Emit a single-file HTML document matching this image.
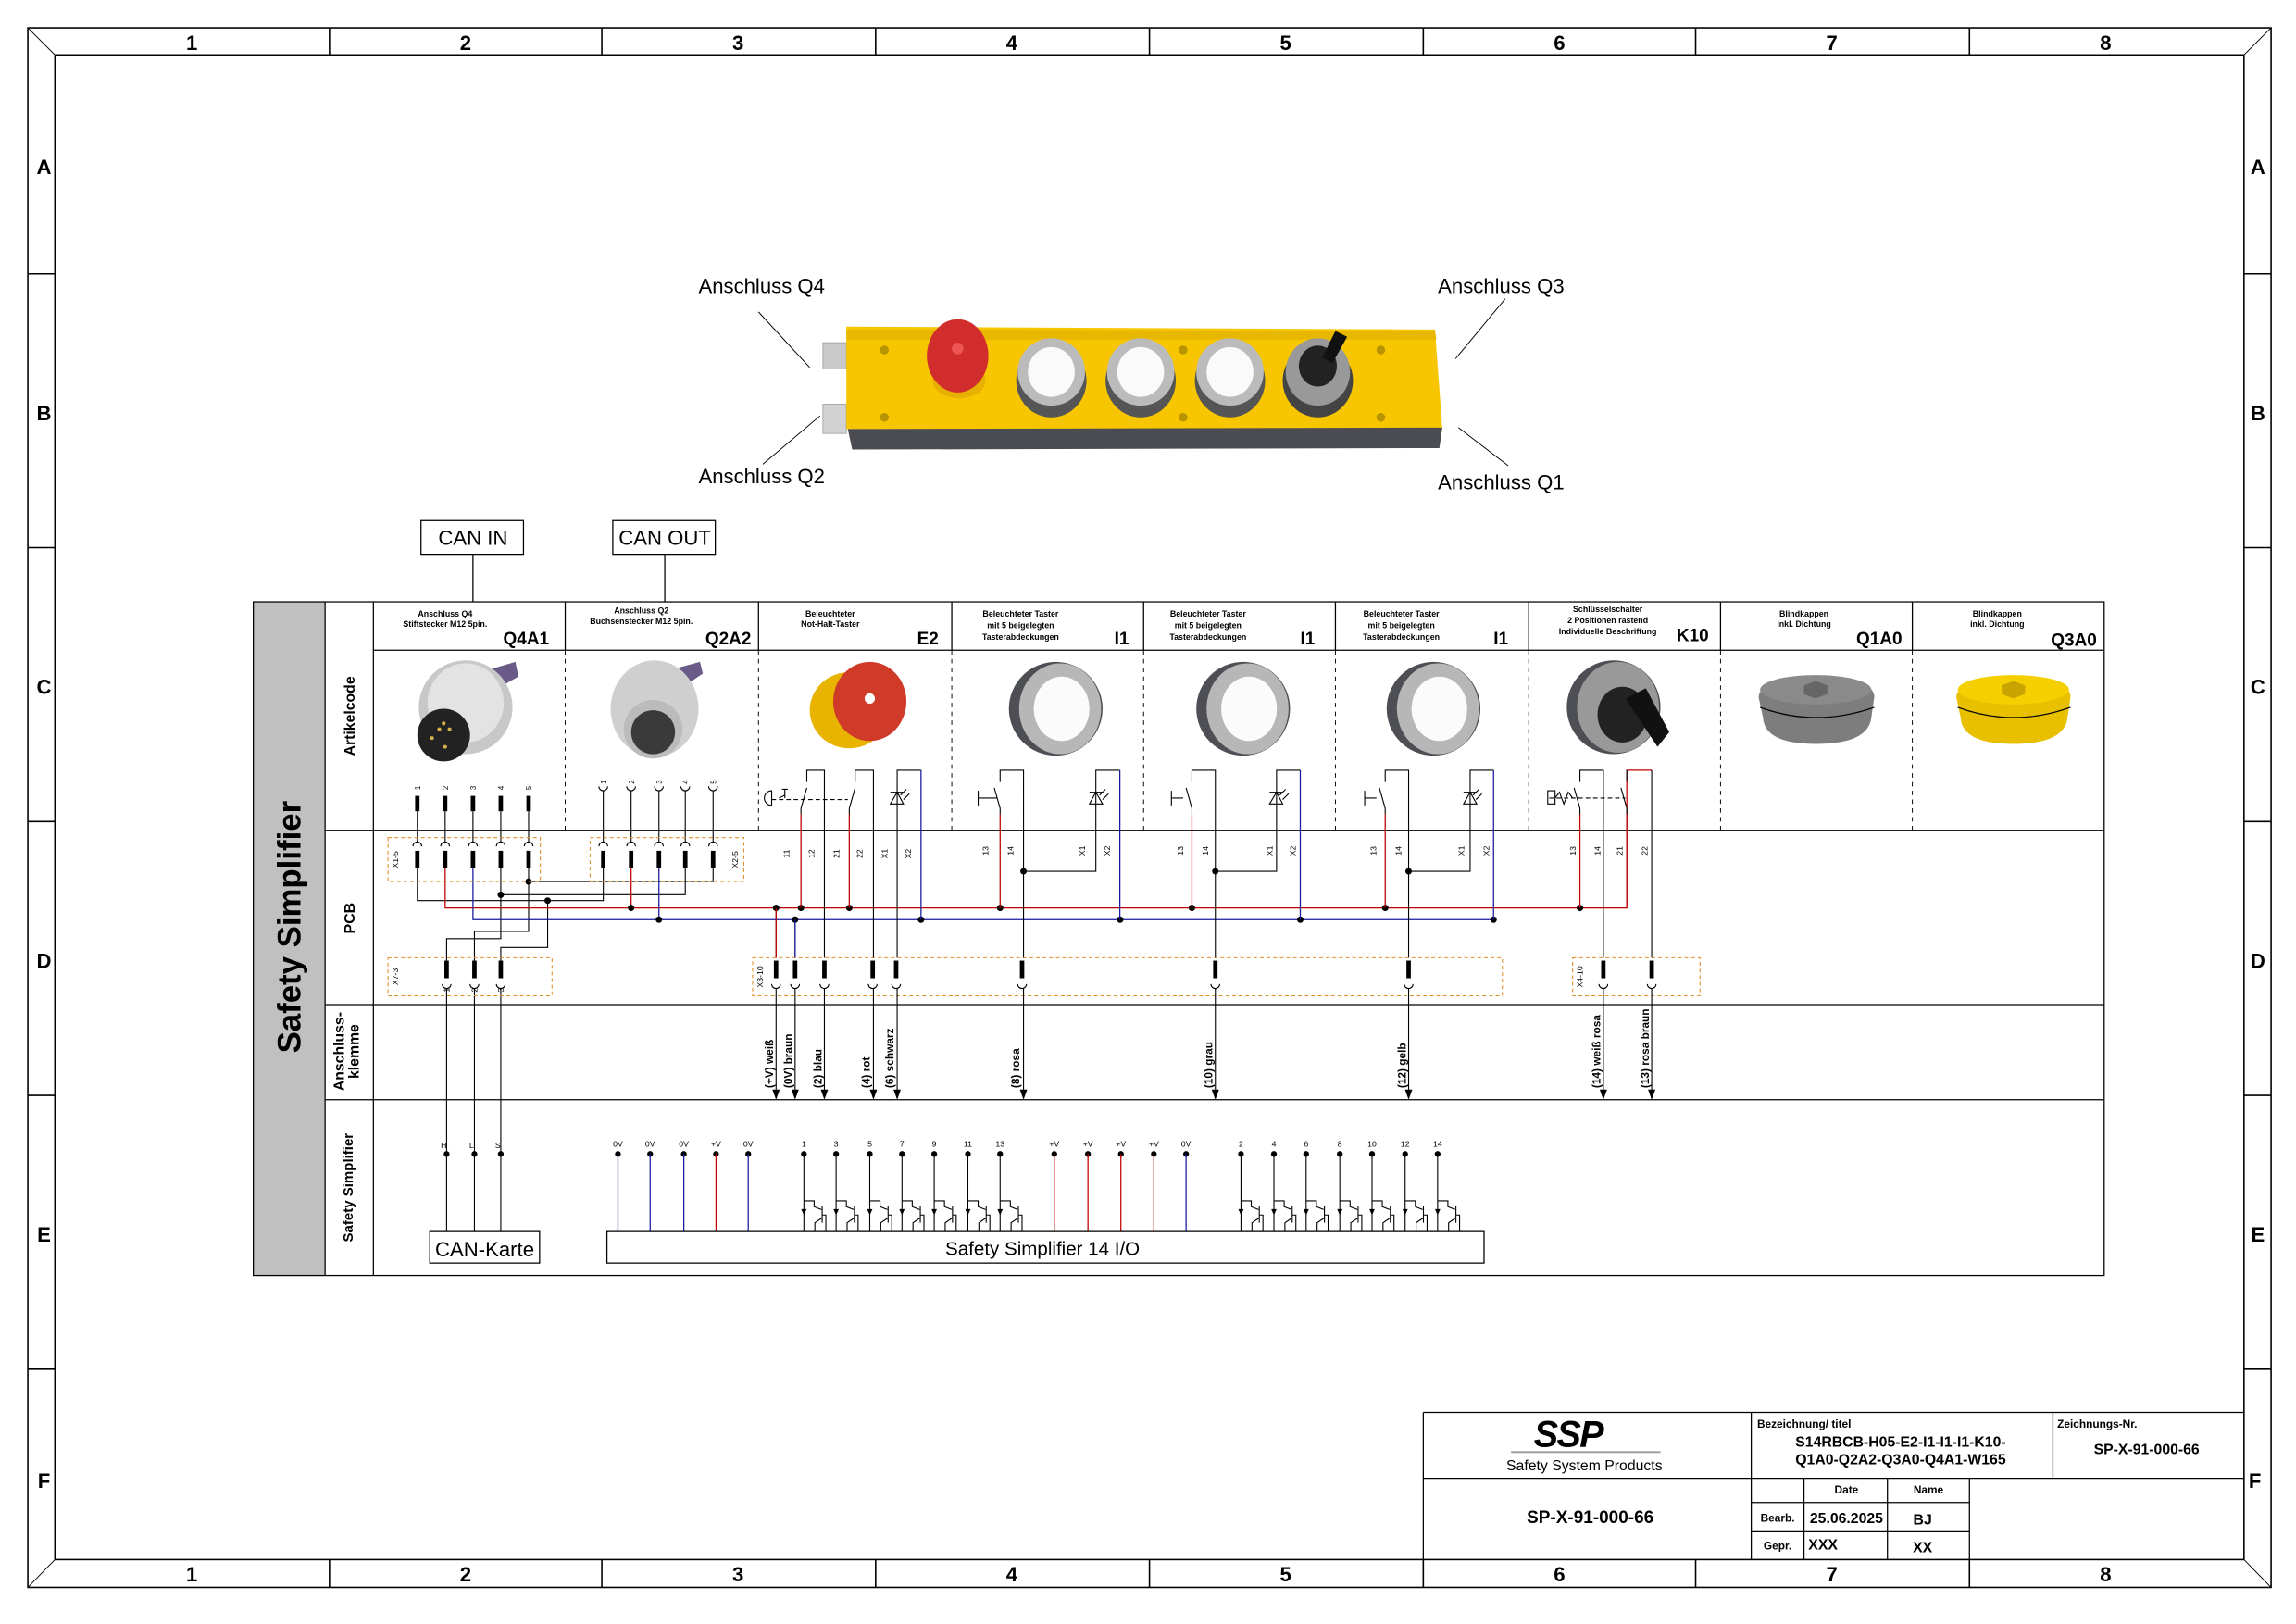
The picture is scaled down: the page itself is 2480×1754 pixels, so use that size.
<!DOCTYPE html>
<html><head><meta charset="utf-8"><style>
html,body{margin:0;padding:0;background:#fff;}
svg{display:block;}
text{font-family:"Liberation Sans",Arial,sans-serif;}
.b{font-weight:bold;}
</style></head><body>
<svg width="2480" height="1754" viewBox="0 0 1568 1109" xmlns="http://www.w3.org/2000/svg">
<defs>
<g id="tr" fill="none" stroke="#000" stroke-width="0.7">
<path d="M0,820 H7 V824 L12,826 M12.5,823.5 V835 M12,832 L7.5,835 V841 M12.5,829.7 H15 V841"/>
<path d="M-1.3,826 L1.3,826 L0,829 Z" fill="#000"/>
</g>
</defs>
<rect width="1568" height="1109" fill="#fff"/>
<!-- frame -->
<g fill="none" stroke="#000" stroke-width="1">
<rect x="19" y="19" width="1532" height="1065"/>
<rect x="37.5" y="37.5" width="1495" height="1027.5"/>
<path d="M19,19 L37.5,37.5 M1551,19 L1532.5,37.5 M19,1084 L37.5,1065 M1551,1084 L1532.5,1065" stroke-width="0.6"/>
<path d="M225,19V37.5 M411,19V37.5 M598,19V37.5 M785,19V37.5 M972,19V37.5 M1158,19V37.5 M1345,19V37.5"/>
<path d="M225,1065V1084 M411,1065V1084 M598,1065V1084 M785,1065V1084 M972,1065V1084 M1158,1065V1084 M1345,1065V1084"/>
<path d="M19,187H37.5 M19,374H37.5 M19,561H37.5 M19,748H37.5 M19,935H37.5"/>
<path d="M1532.5,187H1551 M1532.5,374H1551 M1532.5,561H1551 M1532.5,748H1551 M1532.5,935H1551"/>
</g>
<g class="b" font-size="14" text-anchor="middle">
<text x="131" y="34">1</text><text x="318" y="34">2</text><text x="504" y="34">3</text><text x="691" y="34">4</text><text x="878" y="34">5</text><text x="1065" y="34">6</text><text x="1251" y="34">7</text><text x="1438" y="34">8</text>
<text x="131" y="1080">1</text><text x="318" y="1080">2</text><text x="504" y="1080">3</text><text x="691" y="1080">4</text><text x="878" y="1080">5</text><text x="1065" y="1080">6</text><text x="1251" y="1080">7</text><text x="1438" y="1080">8</text>
<text x="30" y="119">A</text><text x="30" y="287">B</text><text x="30" y="474">C</text><text x="30" y="661">D</text><text x="30" y="848">E</text><text x="30" y="1016">F</text>
<text x="1542" y="119">A</text><text x="1542" y="287">B</text><text x="1542" y="474">C</text><text x="1542" y="661">D</text><text x="1542" y="848">E</text><text x="1540" y="1016">F</text>
</g>

<!-- product image -->
<g>
<text x="477" y="200" font-size="14">Anschluss Q4</text>
<text x="477" y="330" font-size="14">Anschluss Q2</text>
<text x="982" y="200" font-size="14">Anschluss Q3</text>
<text x="982" y="334" font-size="14">Anschluss Q1</text>
<path d="M518,213 L553,251 M521,317 L560,284 M1028,204 L994,245 M996,292 L1030,318" stroke="#000" stroke-width="0.6" fill="none"/>
<rect x="562" y="234" width="16" height="18" fill="#c9c9c9" stroke="#999" stroke-width="0.5"/>
<rect x="562" y="276" width="16" height="20" fill="#d2d2d2" stroke="#999" stroke-width="0.5"/>
<path d="M578,223 L980,225 L985,293 L578,293 Z" fill="#f7c600"/>
<path d="M578,225 L980,226 L981,232 L578,232 Z" fill="#e8b700"/>
<path d="M579,293 L985,292 L983,306 L582,307 Z" fill="#4a4c52"/>
<ellipse cx="655" cy="260" rx="18" ry="12" fill="#e8b000"/>
<ellipse cx="654" cy="243" rx="21" ry="25" fill="#d22d2d"/>
<circle cx="654" cy="238" r="4" fill="#e55"/>
<g>
<ellipse cx="718" cy="260" rx="24" ry="25" fill="#555"/><ellipse cx="718" cy="254" rx="23" ry="23" fill="#bbb"/><ellipse cx="718" cy="254" rx="16" ry="17" fill="#fafafa"/>
<ellipse cx="779" cy="260" rx="24" ry="25" fill="#555"/><ellipse cx="779" cy="254" rx="23" ry="23" fill="#bbb"/><ellipse cx="779" cy="254" rx="16" ry="17" fill="#fafafa"/>
<ellipse cx="840" cy="260" rx="24" ry="25" fill="#555"/><ellipse cx="840" cy="254" rx="23" ry="23" fill="#bbb"/><ellipse cx="840" cy="254" rx="16" ry="17" fill="#fafafa"/>
<ellipse cx="900" cy="260" rx="24" ry="25" fill="#444"/><ellipse cx="900" cy="254" rx="22" ry="23" fill="#999"/><ellipse cx="900" cy="250" rx="13" ry="14" fill="#222"/>
<path d="M903,244 L912,226 L920,230 L910,248 Z" fill="#111"/>
</g>
<circle cx="604" cy="239" r="3" fill="#b79400"/><circle cx="604" cy="285" r="3" fill="#b79400"/>
<circle cx="808" cy="239" r="3" fill="#b79400"/><circle cx="808" cy="285" r="3" fill="#b79400"/>
<circle cx="943" cy="239" r="3" fill="#b79400"/><circle cx="943" cy="285" r="3" fill="#b79400"/>
</g>

<!-- CAN boxes -->
<rect x="287.5" y="355.5" width="70" height="23" fill="none" stroke="#000" stroke-width="0.8"/>
<text x="323" y="372" font-size="14" text-anchor="middle">CAN IN</text>
<rect x="418.5" y="355.5" width="70" height="23" fill="none" stroke="#000" stroke-width="0.8"/>
<text x="454" y="372" font-size="14" text-anchor="middle">CAN OUT</text>
<path d="M323,378.5V411 M454,378.5V411" stroke="#000" stroke-width="0.8"/>

<!-- main table -->
<rect x="173" y="411" width="49" height="460" fill="#c0c0c0"/>
<g fill="none" stroke="#000" stroke-width="0.8">
<rect x="173" y="411" width="1264" height="460"/>
<path d="M222,411V871 M255,411V871 M255,444H1437 M222,567H1437 M222,686H1437 M222,751H1437"/>
<path d="M386,411V444 M518,411V444 M650,411V444 M781,411V444 M912,411V444 M1044,411V444 M1175,411V444 M1306,411V444"/>
<path d="M386,444V567 M518,444V567 M650,444V567 M781,444V567 M912,444V567 M1044,444V567 M1175,444V567 M1306,444V567" stroke-dasharray="3,3" stroke-width="0.6"/>
</g>
<text class="b" font-size="22" text-anchor="middle" transform="translate(205,633) rotate(-90)">Safety Simplifier</text>
<g class="b" font-size="10" text-anchor="middle">
<text transform="translate(242,489) rotate(-90)">Artikelcode</text>
<text transform="translate(242,627) rotate(-90)">PCB</text>
<text transform="translate(235,718) rotate(-90)">Anschluss-</text>
<text transform="translate(245,718) rotate(-90)">klemme</text>
<text transform="translate(241,811) rotate(-90)" font-size="9.5">Safety Simplifier</text>
</g>
<!-- headers -->
<g class="b" font-size="5.6" text-anchor="middle">
<text x="304" y="421">Anschluss Q4</text><text x="304" y="428">Stiftstecker M12 5pin.</text>
<text x="438" y="419">Anschluss Q2</text><text x="438" y="426">Buchsenstecker M12 5pin.</text>
<text x="567" y="421">Beleuchteter</text><text x="567" y="428">Not-Halt-Taster</text>
<text x="697" y="421">Beleuchteter Taster</text><text x="697" y="429">mit 5 beigelegten</text><text x="697" y="437">Tasterabdeckungen</text>
<text x="825" y="421">Beleuchteter Taster</text><text x="825" y="429">mit 5 beigelegten</text><text x="825" y="437">Tasterabdeckungen</text>
<text x="957" y="421">Beleuchteter Taster</text><text x="957" y="429">mit 5 beigelegten</text><text x="957" y="437">Tasterabdeckungen</text>
<text x="1098" y="418">Schlüsselschalter</text><text x="1098" y="425.5">2 Positionen rastend</text><text x="1098" y="433">Individuelle Beschriftung</text>
<text x="1232" y="421">Blindkappen</text><text x="1232" y="428">inkl. Dichtung</text>
<text x="1364" y="421">Blindkappen</text><text x="1364" y="428">inkl. Dichtung</text>
</g>
<g class="b" font-size="12" text-anchor="end">
<text x="375" y="440">Q4A1</text><text x="513" y="440">Q2A2</text><text x="641" y="440">E2</text>
<text x="771" y="440">I1</text><text x="898" y="440">I1</text><text x="1030" y="440">I1</text>
<text x="1167" y="438">K10</text><text x="1299" y="440">Q1A0</text><text x="1432" y="441">Q3A0</text>
</g>
<!-- product pictures -->
<g>
<path d="M335,457 L352,452 L354,462 L340,470 Z" fill="#6a5a88"/>
<ellipse cx="318" cy="483" rx="32" ry="32" fill="#c8c8c8"/>
<ellipse cx="318" cy="480" rx="26" ry="27" fill="#e3e3e3"/>
<circle cx="303" cy="502" r="18" fill="#222"/>
<circle cx="300" cy="498" r="1.3" fill="#d4b44a"/><circle cx="307" cy="498" r="1.3" fill="#d4b44a"/><circle cx="295" cy="504" r="1.3" fill="#d4b44a"/><circle cx="304" cy="510" r="1.3" fill="#d4b44a"/><circle cx="303" cy="494" r="1.3" fill="#d4b44a"/>
<path d="M463,456 L478,452 L480,460 L468,468 Z" fill="#6a5a88"/>
<ellipse cx="447" cy="484" rx="30" ry="33" fill="#cfcfcf"/>
<ellipse cx="446" cy="498" rx="20" ry="20" fill="#bbb"/>
<circle cx="446" cy="500" r="15" fill="#3a3a3a"/>
<ellipse cx="580" cy="485" rx="27" ry="26" fill="#e8b400"/>
<ellipse cx="594" cy="479" rx="25" ry="27" fill="#d03a28"/>
<circle cx="594" cy="477" r="3.5" fill="#fff"/>
<g>
<ellipse cx="721" cy="484" rx="32" ry="32" fill="#4d4f55"/><ellipse cx="724" cy="484" rx="28" ry="31" fill="#b7b7b7"/><ellipse cx="725" cy="484" rx="19" ry="22" fill="#fbfbfb"/>
<ellipse cx="849" cy="484" rx="32" ry="32" fill="#4d4f55"/><ellipse cx="852" cy="484" rx="28" ry="31" fill="#b7b7b7"/><ellipse cx="853" cy="484" rx="19" ry="22" fill="#fbfbfb"/>
<ellipse cx="979" cy="484" rx="32" ry="32" fill="#4d4f55"/><ellipse cx="982" cy="484" rx="28" ry="31" fill="#b7b7b7"/><ellipse cx="983" cy="484" rx="19" ry="22" fill="#fbfbfb"/>
<ellipse cx="1102" cy="483" rx="32" ry="32" fill="#4d4f55"/><ellipse cx="1105" cy="483" rx="28" ry="31" fill="#999"/><ellipse cx="1108" cy="488" rx="17" ry="19" fill="#222"/>
<path d="M1110,477 L1124,470 L1140,500 L1132,510 Z" fill="#111"/>
</g>
<path d="M1201,476 Q1202,463 1240,463 Q1280,463 1280,476 L1278,490 Q1276,508 1240,508 Q1205,508 1204,490 Z" fill="#7d7d7d"/>
<ellipse cx="1240" cy="471" rx="38" ry="10" fill="#8a8a8a"/>
<path d="M1202,483 Q1240,497 1280,483" stroke="#000" stroke-width="0.8" fill="none"/>
<path d="M1336,476 Q1337,463 1375,463 Q1414,463 1414,476 L1412,490 Q1410,508 1375,508 Q1340,508 1339,490 Z" fill="#e8c000"/>
<ellipse cx="1375" cy="471" rx="38" ry="10" fill="#f5cf00"/>
<path d="M1337,483 Q1375,497 1414,483" stroke="#000" stroke-width="0.8" fill="none"/>
<polygon points="1232,468 1240,465 1248,468 1248,474 1240,477 1232,474" fill="#666"/>
<polygon points="1367,468 1375,465 1383,468 1383,474 1375,477 1367,474" fill="#c9a400"/>
</g>

<!-- Q4/Q2 pins -->
<g font-size="5" text-anchor="middle">
<text transform="translate(287,538) rotate(-90)">1</text><text transform="translate(306,538) rotate(-90)">2</text><text transform="translate(325,538) rotate(-90)">3</text><text transform="translate(344,538) rotate(-90)">4</text><text transform="translate(363,538) rotate(-90)">5</text>
<text transform="translate(414,534) rotate(-90)">1</text><text transform="translate(433,534) rotate(-90)">2</text><text transform="translate(452,534) rotate(-90)">3</text><text transform="translate(470,534) rotate(-90)">4</text><text transform="translate(489,534) rotate(-90)">5</text>
</g>
<g fill="#000">
<rect x="283.5" y="543.5" width="3" height="10.5"/><rect x="302.5" y="543.5" width="3" height="10.5"/><rect x="321.5" y="543.5" width="3" height="10.5"/><rect x="340.5" y="543.5" width="3" height="10.5"/><rect x="359.5" y="543.5" width="3" height="10.5"/>
<rect x="283.5" y="581" width="3" height="12"/><rect x="302.5" y="581" width="3" height="12"/><rect x="321.5" y="581" width="3" height="12"/><rect x="340.5" y="581" width="3" height="12"/><rect x="359.5" y="581" width="3" height="12"/>
<rect x="410.5" y="581" width="3" height="12"/><rect x="429.5" y="581" width="3" height="12"/><rect x="448.5" y="581" width="3" height="12"/><rect x="466.5" y="581" width="3" height="12"/><rect x="485.5" y="581" width="3" height="12"/>
<rect x="303.5" y="656" width="3" height="12"/><rect x="322.5" y="656" width="3" height="12"/><rect x="340.5" y="656" width="3" height="12"/>
</g>
<g fill="none" stroke="#000" stroke-width="0.7">
<path d="M282,578 a3,3 0 0 1 6,0 M301,578 a3,3 0 0 1 6,0 M320,578 a3,3 0 0 1 6,0 M339,578 a3,3 0 0 1 6,0 M358,578 a3,3 0 0 1 6,0"/>
<path d="M409,578 a3,3 0 0 1 6,0 M428,578 a3,3 0 0 1 6,0 M447,578 a3,3 0 0 1 6,0 M465,578 a3,3 0 0 1 6,0 M484,578 a3,3 0 0 1 6,0"/>
<path d="M409,537 a3,3 0 0 0 6,0 M428,537 a3,3 0 0 0 6,0 M447,537 a3,3 0 0 0 6,0 M465,537 a3,3 0 0 0 6,0 M484,537 a3,3 0 0 0 6,0"/>
<path d="M302,672 a3,3 0 0 0 6,0 M321,672 a3,3 0 0 0 6,0 M339,672 a3,3 0 0 0 6,0"/>
<path d="M527,672 a3,3 0 0 0 6,0 M540,672 a3,3 0 0 0 6,0 M560,672 a3,3 0 0 0 6,0 M593,672 a3,3 0 0 0 6,0 M609,672 a3,3 0 0 0 6,0 M695,672 a3,3 0 0 0 6,0 M827,672 a3,3 0 0 0 6,0 M959,672 a3,3 0 0 0 6,0 M1092,672 a3,3 0 0 0 6,0 M1125,672 a3,3 0 0 0 6,0"/>
<path d="M285,554V575 M304,554V575 M323,554V575 M342,554V575 M361,554V575"/>
<path d="M412,540V575 M431,540V575 M450,540V575 M468,540V575 M487,540V575"/>
<path d="M285,593V615H412V593 M342,593V611H468V593 M361,593V602H487V593"/>
<path d="M305,656V641H342V611 M324,656V636H361V602 M342,656V647H374V615"/>
<path d="M305,675V841 M324,675V841 M342,675V841"/>
</g>
<path d="M304,593V620H1111V526H1128" fill="none" stroke="#c00000" stroke-width="0.8"/>
<path d="M431,593V620" stroke="#c00000" stroke-width="0.8"/>
<path d="M323,593V628H1020" fill="none" stroke="#1a1aa0" stroke-width="0.8"/>
<path d="M450,593V628" stroke="#1a1aa0" stroke-width="0.8"/>
<g fill="#000">
<circle cx="374" cy="615" r="2.2"/><circle cx="342" cy="611" r="2.2"/><circle cx="361" cy="602" r="2.2"/>
<circle cx="431" cy="620" r="2.2"/><circle cx="450" cy="628" r="2.2"/>
<circle cx="530" cy="620" r="2.2"/><circle cx="547" cy="620" r="2.2"/><circle cx="580" cy="620" r="2.2"/><circle cx="543" cy="628" r="2.2"/><circle cx="629" cy="628" r="2.2"/>
<circle cx="683" cy="620" r="2.2"/><circle cx="814" cy="620" r="2.2"/><circle cx="946" cy="620" r="2.2"/><circle cx="1079" cy="620" r="2.2"/>
<circle cx="765" cy="628" r="2.2"/><circle cx="888" cy="628" r="2.2"/><circle cx="1020" cy="628" r="2.2"/>
<circle cx="699" cy="595" r="2.2"/><circle cx="830" cy="595" r="2.2"/><circle cx="962" cy="595" r="2.2"/>
</g>
<g fill="none" stroke="#e0902a" stroke-width="0.7" stroke-dasharray="2.5,2">
<rect x="265" y="572" width="104" height="30"/><rect x="403" y="572" width="105" height="30"/>
<rect x="265" y="654" width="112" height="26"/><rect x="514" y="654" width="512" height="26"/><rect x="1074" y="654" width="87" height="26"/>
</g>
<g font-size="5.5" text-anchor="middle">
<text transform="translate(272,587) rotate(-90)">X1-5</text><text transform="translate(504,587) rotate(-90)">X2-5</text>
<text transform="translate(272,667) rotate(-90)">X7-3</text><text transform="translate(521,667) rotate(-90)">X3-10</text><text transform="translate(1081,667) rotate(-90)">X4-10</text>
</g>
<g fill="none" stroke="#000" stroke-width="0.7">
<path d="M547,556 V552 L551,538 M551,534 V526 H563 V654"/>
<path d="M580,556 V552 L584,538 M584,534 V526 H596.5 V654"/>
<path d="M527,546 H579" stroke-dasharray="3,2"/>
<path d="M527,540 a5,5 0 0 0 0,10 Z M532,545 L536,543 V541 M534,539 H538 M536,539 V545"/>
<path d="M612.7,654 V526 H629"/>
<path d="M608,549 H617 L612.7,541 Z M608,541 H617 M615,543 L619,539 M617,546 L621,542"/>
<path d="M530,620 V654 M543,628 V654"/>
<path d="M683,556 V552 L679,538 M683,534 V526 H699 V654 M676,545 H681 M668,540 V550 M668,545 H676"/>
<path d="M699,595 H748.4 V526 H764.8 M744,549 H753 L748.4,541 Z M744,541 H753 M751,543 L755,539 M753,546 L757,542"/>
<path d="M814,556 V552 L810,538 M814,534 V526 H830 V654 M800,540 V550 M800,545 H808"/>
<path d="M830,595 H871.8 V526 H888 M867,549 H876 L871.8,541 Z M867,541 H876 M874,543 L878,539 M876,546 L880,542"/>
<path d="M946,556 V552 L942,538 M946,534 V526 H962 V654 M932,540 V550 M932,545 H940"/>
<path d="M962,595 H1004 V526 H1020 M999.5,549 H1008.5 L1004,541 Z M999.5,541 H1008.5 M1006,543 L1010,539 M1008,546 L1012,542"/>
<path d="M1079,556 V552 L1075,538 M1079,534 V526 H1095 V654 M1111,556 V552 L1107,538 M1111,534 V526"/>
<path d="M1058,545 H1110" stroke-dasharray="3,2"/>
<path d="M1057,540 h5 v9 h-5 Z M1062,545 l3,-4 l3,8 l3,-8 l3,4"/>
<path d="M1128,526 V654"/>
</g>
<g fill="none" stroke="#c00000" stroke-width="0.8"><path d="M547,556V620 M580,556V620 M683,556V620 M814,556V620 M946,556V620 M1079,556V620 M530,620V654 M1111,556V620"/></g>
<g fill="none" stroke="#1a1aa0" stroke-width="0.8"><path d="M629,526V628 M764.8,526V628 M888,526V628 M1020,526V628 M543,628V654"/></g>
<g font-size="5.5" text-anchor="middle">
<text transform="translate(539,583) rotate(-90)">11</text><text transform="translate(556,583) rotate(-90)">12</text><text transform="translate(573,583) rotate(-90)">21</text><text transform="translate(589,583) rotate(-90)">22</text><text transform="translate(606,583) rotate(-90)">X1</text><text transform="translate(622,583) rotate(-90)">X2</text>
<text transform="translate(675,581) rotate(-90)">13</text><text transform="translate(692,581) rotate(-90)">14</text><text transform="translate(741,581) rotate(-90)">X1</text><text transform="translate(758,581) rotate(-90)">X2</text>
<text transform="translate(808,581) rotate(-90)">13</text><text transform="translate(825,581) rotate(-90)">14</text><text transform="translate(869,581) rotate(-90)">X1</text><text transform="translate(885,581) rotate(-90)">X2</text>
<text transform="translate(940,581) rotate(-90)">13</text><text transform="translate(957,581) rotate(-90)">14</text><text transform="translate(1000,581) rotate(-90)">X1</text><text transform="translate(1017,581) rotate(-90)">X2</text>
<text transform="translate(1076,581) rotate(-90)">13</text><text transform="translate(1093,581) rotate(-90)">14</text><text transform="translate(1108,581) rotate(-90)">21</text><text transform="translate(1125,581) rotate(-90)">22</text>
<text transform="translate(307,676) rotate(-90)">1</text><text transform="translate(326,676) rotate(-90)">2</text><text transform="translate(344,676) rotate(-90)">3</text>
</g>
<g fill="#000">
<rect x="528.5" y="656" width="3" height="12"/><rect x="541.5" y="656" width="3" height="12"/><rect x="561.5" y="656" width="3" height="12"/><rect x="594.5" y="656" width="3" height="12"/><rect x="610.5" y="656" width="3" height="12"/>
<rect x="696.5" y="656" width="3" height="12"/><rect x="828.5" y="656" width="3" height="12"/><rect x="960.5" y="656" width="3" height="12"/><rect x="1093.5" y="656" width="3" height="12"/><rect x="1126.5" y="656" width="3" height="12"/>
</g>
<g fill="none" stroke="#000" stroke-width="0.7">
<path d="M530,675V750 M543,675V750 M563,675V750 M596.5,675V750 M612.7,675V750 M699,675V750 M830,675V750 M962,675V750 M1095,675V750 M1128,675V750"/>
</g>
<g fill="#000">
<path d="M527.5,744h5l-2.5,7z M540.5,744h5l-2.5,7z M560.5,744h5l-2.5,7z M594,744h5l-2.5,7z M610.2,744h5l-2.5,7z M696.5,744h5l-2.5,7z M827.5,744h5l-2.5,7z M959.5,744h5l-2.5,7z M1092.5,744h5l-2.5,7z M1125.5,744h5l-2.5,7z"/>
</g>
<g class="b" font-size="7.5" text-anchor="start">
<text transform="translate(528,743) rotate(-90)">(+V) weiß</text><text transform="translate(541,743) rotate(-90)">(0V) braun</text><text transform="translate(561,743) rotate(-90)">(2) blau</text><text transform="translate(594,743) rotate(-90)">(4) rot</text><text transform="translate(610,743) rotate(-90)">(6) schwarz</text>
<text transform="translate(696,743) rotate(-90)">(8) rosa</text><text transform="translate(828,743) rotate(-90)">(10) grau</text><text transform="translate(960,743) rotate(-90)">(12) gelb</text><text transform="translate(1093,743) rotate(-90)">(14) weiß rosa</text><text transform="translate(1126,743) rotate(-90)">(13) rosa braun</text>
</g>
<g font-size="5.5" text-anchor="middle">
<text x="303" y="784">H</text><text x="322" y="784">L</text><text x="340" y="784">S</text>
<text x="422" y="783">0V</text><text x="444" y="783">0V</text><text x="467" y="783">0V</text><text x="489" y="783">+V</text><text x="511" y="783">0V</text>
<text x="549" y="783">1</text><text x="571" y="783">3</text><text x="594" y="783">5</text><text x="616" y="783">7</text><text x="638" y="783">9</text><text x="661" y="783">11</text><text x="683" y="783">13</text>
<text x="720" y="783">+V</text><text x="743" y="783">+V</text><text x="765.5" y="783">+V</text><text x="788" y="783">+V</text><text x="810" y="783">0V</text>
<text x="847.5" y="783">2</text><text x="870" y="783">4</text><text x="892" y="783">6</text><text x="915" y="783">8</text><text x="937" y="783">10</text><text x="959.6" y="783">12</text><text x="981.8" y="783">14</text>
</g>
<g fill="#000">
<circle cx="305" cy="788" r="2"/><circle cx="324" cy="788" r="2"/><circle cx="342" cy="788" r="2"/>
<circle cx="422" cy="788" r="2"/><circle cx="444" cy="788" r="2"/><circle cx="467" cy="788" r="2"/><circle cx="489" cy="788" r="2"/><circle cx="511" cy="788" r="2"/>
<circle cx="549" cy="788" r="2"/><circle cx="571" cy="788" r="2"/><circle cx="594" cy="788" r="2"/><circle cx="616" cy="788" r="2"/><circle cx="638" cy="788" r="2"/><circle cx="661" cy="788" r="2"/><circle cx="683" cy="788" r="2"/>
<circle cx="720" cy="788" r="2"/><circle cx="743" cy="788" r="2"/><circle cx="765.5" cy="788" r="2"/><circle cx="788" cy="788" r="2"/><circle cx="810" cy="788" r="2"/>
<circle cx="847.5" cy="788" r="2"/><circle cx="870" cy="788" r="2"/><circle cx="892" cy="788" r="2"/><circle cx="915" cy="788" r="2"/><circle cx="937" cy="788" r="2"/><circle cx="959.6" cy="788" r="2"/><circle cx="981.8" cy="788" r="2"/>
</g>
<g stroke-width="0.8" fill="none">
<path d="M422,788V841 M444,788V841 M467,788V841 M511,788V841 M810,788V841" stroke="#1a1aa0"/>
<path d="M489,788V841 M720,788V841 M743,788V841 M765.5,788V841 M788,788V841" stroke="#c00000"/>
<path d="M549,788V841 M571,788V841 M594,788V841 M616,788V841 M638,788V841 M661,788V841 M683,788V841 M847.5,788V841 M870,788V841 M892,788V841 M915,788V841 M937,788V841 M959.6,788V841 M981.8,788V841" stroke="#000" stroke-width="0.7"/>
</g>
<use href="#tr" x="549"/><use href="#tr" x="571"/><use href="#tr" x="594"/><use href="#tr" x="616"/><use href="#tr" x="638"/><use href="#tr" x="661"/><use href="#tr" x="683"/>
<use href="#tr" x="847.5"/><use href="#tr" x="870"/><use href="#tr" x="892"/><use href="#tr" x="915"/><use href="#tr" x="937"/><use href="#tr" x="959.6"/><use href="#tr" x="981.8"/>
<rect x="293.5" y="841" width="75" height="21.5" fill="#fff" stroke="#000" stroke-width="0.8"/>
<text x="331" y="858" font-size="14" text-anchor="middle">CAN-Karte</text>
<rect x="414.5" y="841" width="599" height="21.5" fill="#fff" stroke="#000" stroke-width="0.8"/>
<text x="712" y="857" font-size="13" text-anchor="middle">Safety Simplifier 14 I/O</text>

<!-- title block -->
<g fill="none" stroke="#000" stroke-width="0.8">
<path d="M972,964.5H1533 M972,964.5V1065 M972,1009.5H1533 M1196,964.5V1065 M1402,964.5V1009.5 M1232,1009.5V1065 M1289,1009.5V1065 M1345,1009.5V1065 M1196,1026H1345 M1196,1046H1345"/>
</g>
<text x="1071" y="988" font-size="25" class="b" font-style="italic" text-anchor="middle" letter-spacing="-1">SSP</text>
<rect x="1032" y="991" width="102" height="1.2" fill="#999"/>
<text x="1082" y="1004" font-size="10" text-anchor="middle">Safety System Products</text>
<text x="1086" y="1040" font-size="12" class="b" text-anchor="middle">SP-X-91-000-66</text>
<text x="1200" y="975" font-size="7.5" class="b">Bezeichnung/ titel</text>
<text x="1298" y="988" font-size="10" class="b" text-anchor="middle">S14RBCB-H05-E2-I1-I1-I1-K10-</text>
<text x="1298" y="1000" font-size="10" class="b" text-anchor="middle">Q1A0-Q2A2-Q3A0-Q4A1-W165</text>
<text x="1405" y="975" font-size="7.5" class="b">Zeichnungs-Nr.</text>
<text x="1466" y="993" font-size="10" class="b" text-anchor="middle">SP-X-91-000-66</text>
<text x="1261" y="1020" font-size="7.5" class="b" text-anchor="middle">Date</text>
<text x="1317" y="1020" font-size="7.5" class="b" text-anchor="middle">Name</text>
<text x="1214" y="1039" font-size="7.5" class="b" text-anchor="middle">Bearb.</text>
<text x="1261" y="1040" font-size="10" class="b" text-anchor="middle">25.06.2025</text>
<text x="1313" y="1041" font-size="10" class="b" text-anchor="middle">BJ</text>
<text x="1214" y="1058" font-size="7.5" class="b" text-anchor="middle">Gepr.</text>
<text x="1235" y="1058" font-size="10" class="b">XXX</text>
<text x="1313" y="1060" font-size="10" class="b" text-anchor="middle">XX</text>
</svg>
</body></html>
